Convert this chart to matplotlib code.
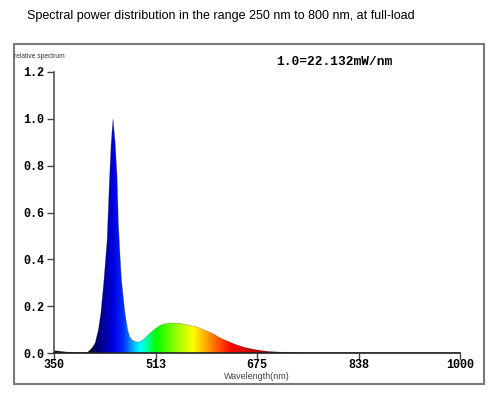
import numpy as np
import matplotlib
matplotlib.use("Agg")
import matplotlib.pyplot as plt
from matplotlib.colors import LinearSegmentedColormap
from matplotlib.patches import Rectangle

# ---- data ----
wavelength = [350, 360, 370, 380, 390, 400, 404, 408, 412, 416, 421, 425, 430, 435,
              439, 441.5, 444.5, 448, 451, 453, 455, 458, 463.7, 468, 471, 475, 480, 485,
              492, 498, 504, 512, 520, 528, 536, 545, 552, 562, 570, 578, 590, 605,
              616, 632, 642, 655, 669, 682, 696, 710, 722, 740, 780, 850, 1000]
relative = [0.010, 0.007, 0.004, 0.003, 0.002, 0.002, 0.004, 0.013, 0.025, 0.043,
            0.098, 0.169, 0.311, 0.48, 0.75, 0.894, 1.00, 0.894, 0.752, 0.56, 0.45,
            0.311, 0.169, 0.098, 0.070, 0.056, 0.049, 0.046, 0.055, 0.070, 0.085,
            0.103, 0.118, 0.125, 0.128, 0.128, 0.126, 0.121, 0.116, 0.112, 0.099,
            0.082, 0.064, 0.046, 0.035, 0.024, 0.016, 0.010, 0.006, 0.004, 0.003,
            0.002, 0.0015, 0.001, 0.001]
x_ticks = [350, 513, 675, 838, 1000]
y_ticks = [0.0, 0.2, 0.4, 0.6, 0.8, 1.0, 1.2]
title = "Spectral power distribution in the range 250 nm to 800 nm, at full-load"
unit_note = "1.0=22.132mW/nm"

# spectral colour anchors (wavelength -> colour)
col_wl = [350, 400, 420, 445, 460, 475, 487, 500, 512, 540, 572, 590, 610, 635, 665, 700, 740, 790, 1000]
col_rgb = ["#000000", "#000000", "#00007a", "#0000e6", "#0030ff", "#00a8ff", "#00ffff",
           "#00ff90", "#00ff00", "#80ff00", "#ffff00", "#ffb400", "#ff6000", "#ff0000",
           "#c80000", "#8a0000", "#300000", "#000000", "#000000"]

W, H = 497, 394
fig = plt.figure(figsize=(W / 100, H / 100), dpi=100)

def px(x0, y0, x1, y1):
    return [x0 / W, 1 - y1 / H, (x1 - x0) / W, (y1 - y0) / H]

fig.text(27 / W, 1 - 16 / H, title, fontsize=9, family="Liberation Sans",
         va="center", ha="left", color="black")

fig.patches.append(Rectangle((14 / W, 1 - 384 / H), 470 / W, 340 / H,
                             transform=fig.transFigure, fill=False,
                             edgecolor="#7a7a7a", lw=1.5))

ax = fig.add_axes(px(54, 72, 460, 353))
ax.set_xlim(350, 1000)
ax.set_ylim(0, 1.2)

poly = ax.fill_between(wavelength, relative, 0, color="none", lw=0)
cmap = LinearSegmentedColormap.from_list(
    "spec", [((w - 350) / 650, c) for w, c in zip(col_wl, col_rgb)])
grad = np.linspace(0, 1, 1300).reshape(1, -1)
im = ax.imshow(grad, aspect="auto", cmap=cmap, extent=[350, 1000, 0, 1.2],
               origin="lower", interpolation="bilinear")
im.set_clip_path(poly.get_paths()[0], transform=ax.transData)
ax.plot(wavelength, relative, color="#222222", lw=0.4, alpha=0.4)

for s in ["top", "right"]:
    ax.spines[s].set_visible(False)
ax.spines["left"].set_color("#555555")
ax.spines["bottom"].set_color("#222222")
ax.spines["left"].set_linewidth(1.2)
ax.spines["bottom"].set_linewidth(1.2)

ax.set_xticks(x_ticks)
ax.set_xticklabels([str(t) for t in x_ticks])
ax.set_yticks(y_ticks)
ax.set_yticklabels([f"{t:.1f}" for t in y_ticks])
for lab in ax.get_xticklabels() + ax.get_yticklabels():
    lab.set_fontfamily("Liberation Mono")
    lab.set_fontweight("bold")
    lab.set_fontsize(8.5)
ax.tick_params(axis="both", direction="out", length=5, width=1, color="#444444")
ax.tick_params(axis="x", pad=-1)
ax.tick_params(axis="y", pad=2)

ax.set_xlabel("Wavelength(nm)", fontsize=6.5, family="Liberation Sans",
              color="#4a4040", labelpad=1)

fig.text(14 / W, 1 - 56 / H, "relative spectrum", fontsize=4.8,
         family="Liberation Sans", color="#333333", va="center", ha="left")
fig.text(276 / W, 1 - 62 / H, unit_note, fontsize=9.3, family="Liberation Mono",
         weight="bold", va="center", ha="left")

fig.savefig("out.png", dpi=100)
